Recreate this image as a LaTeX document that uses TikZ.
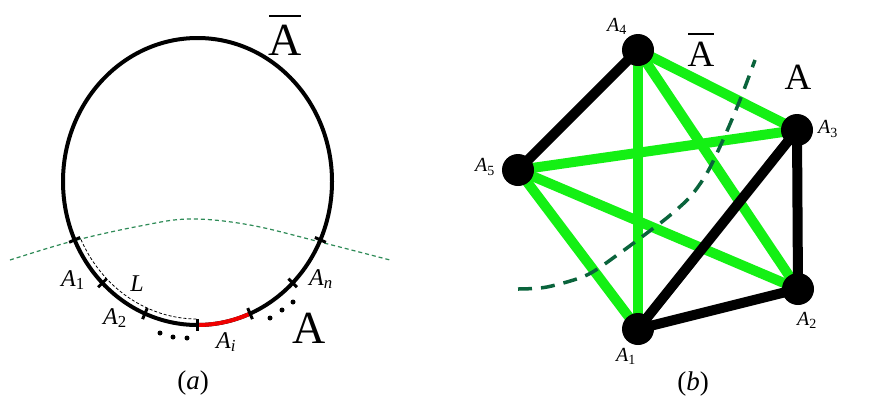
\documentclass[tikz,border=0pt]{standalone}
\usepackage{fontspec}
\setmainfont{Liberation Serif}
\definecolor{brightgreen}{RGB}{20,240,20}
\definecolor{dkgreen}{RGB}{10,100,60}
\definecolor{sgreen}{RGB}{46,139,87}
\definecolor{arcred}{RGB}{240,0,0}
\newcommand\Asub[1]{\textit{A}\textsubscript{#1}}
\begin{document}
\begin{tikzpicture}[x=1pt,y=-1pt,
  circ/.style={line width=4pt},
  tickmark/.style={line width=3pt},
  lab/.style={font=\fontsize{24}{28}\selectfont, inner sep=0pt},
  blab/.style={font=\fontsize{20}{24}\selectfont, inner sep=0pt},
  bigA/.style={font=\fontsize{46}{50}\selectfont, inner sep=0pt},
  midA/.style={font=\fontsize{37}{40}\selectfont, inner sep=0pt},
  capt/.style={font=\fontsize{27}{30}\selectfont, inner sep=0pt},
  vert/.style={circle, fill=black, minimum size=32pt, inner sep=0pt},
  gedge/.style={line width=10pt, draw=brightgreen},
  kedge/.style={line width=10pt, draw=black},
  dotm/.style={circle, fill=black, minimum size=5pt, inner sep=0pt},
]
\fill[white] (0,0) rectangle (869,410);
\useasboundingbox (0,0) rectangle (869,410);

% ---------- (a) ----------
\def\cx{197.5}\def\cy{181.5}\def\rx{134.5}\def\ry{143.5}
\draw[sgreen, line width=1.2pt, dash pattern=on 4pt off 3pt]
  plot[smooth, tension=0.6] coordinates {(10,260) (73,241) (140,226) (190,219) (250,225) (324,243) (390,260)};
\draw[circ] (\cx,\cy) ellipse [x radius=\rx, y radius=\ry];
\draw[arcred, circ] ({\cx+\rx*cos(90)},{\cy+\ry*sin(90)}) arc [start angle=90, end angle=67, x radius=\rx, y radius=\ry];
\draw[line width=0.8pt, dash pattern=on 3pt off 2pt]
  ({\cx+(\rx-6)*cos(155)},{\cy+(\ry-6)*sin(155)}) arc [start angle=155, end angle=90, x radius=\rx-6, y radius=\ry-6];
\foreach \a in {24,45,67,90,113,135,156}{
  \draw[tickmark] ({\cx+(\rx-6)*cos(\a)},{\cy+(\ry-6)*sin(\a)}) -- ({\cx+(\rx+6)*cos(\a)},{\cy+(\ry+6)*sin(\a)});
}
\node[bigA] (abar) at (285,40) {A};
\draw[line width=2.2pt] ([xshift=1pt,yshift=9pt]abar.north west) -- ([xshift=-1pt,yshift=9pt]abar.north east);
\node[bigA] (biga) at (309,328) {A};
\node[lab] (a1) at (73,280) {\Asub{1}};
\node[lab] (a2) at (115,318) {\Asub{2}};
\node[lab] (ll) at (137,284) {\textit{L}};
\node[lab] (ai) at (226,342) {\Asub{\textit{i}}};
\node[lab] (an) at (321,279) {\Asub{\textit{n}}};
\node[dotm] (d1) at (160,333) {};
\node[dotm] (d2) at (173,337) {};
\node[dotm] (d3) at (187,338) {};
\node[dotm] (d4) at (270,318) {};
\node[dotm] (d5) at (282,310) {};
\node[dotm] (d6) at (293,302) {};
\node[capt] (capa) at (193,383) {(\textit{a})};

% ---------- (b) ----------
\coordinate (P4) at (638,50);
\coordinate (P3) at (797,130);
\coordinate (P5) at (518,170);
\coordinate (P2) at (798,289);
\coordinate (P1) at (638,329);
\draw[gedge] (P4) -- (P1);
\draw[gedge] (P4) -- (P3);
\draw[gedge] (P4) -- (P2);
\draw[gedge] (P5) -- (P3);
\draw[gedge] (P5) -- (P2);
\draw[gedge] (P5) -- (P1);
\draw[kedge] (P4) -- (P5);
\draw[kedge] (P3) -- (P2);
\draw[kedge] (P3) -- (P1);
\draw[kedge] (P1) -- (P2);
\draw[dkgreen, line width=3.5pt, dash pattern=on 14pt off 9pt]
  plot[smooth] coordinates {(518,289) (547,287) (587,275) (620,253) (647,233) (668,217) (690,197) (707,173) (723,140) (740,100) (755,60)};
\node[vert] (n4) at (P4) {};
\node[vert] (n3) at (P3) {};
\node[vert] (n5) at (P5) {};
\node[vert] (n2) at (P2) {};
\node[vert] (n1) at (P1) {};
\node[blab] (l4) at (617,26) {\Asub{4}};
\node[blab] (l3) at (828,129) {\Asub{3}};
\node[blab] (l5) at (485,167) {\Asub{5}};
\node[blab] (l2) at (807,320) {\Asub{2}};
\node[blab] (l1) at (626,356) {\Asub{1}};
\node[midA] (bbar) at (701,54) {A};
\draw[line width=2pt] ([xshift=1pt,yshift=8pt]bbar.north west) -- ([xshift=-1pt,yshift=8pt]bbar.north east);
\node[midA] (ba) at (798,77) {A};
\node[capt] (capb) at (693,384) {(\textit{b})};
\end{tikzpicture}
\end{document}
